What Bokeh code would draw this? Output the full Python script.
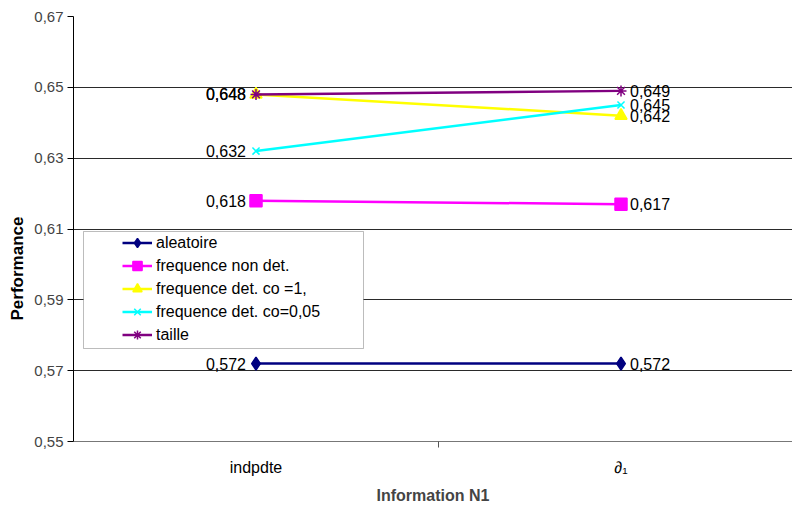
from bokeh.plotting import figure
from bokeh.models import (ColumnDataSource, FixedTicker, LabelSet, Title,
                          BoxAnnotation, CustomJSTickFormatter)
from bokeh.core.properties import value
from bokeh.embed import file_html
from bokeh.resources import INLINE

# ---- data ----
categories = ["indpdte", "\u2202\u2081"]
series_names = ["aleatoire", "frequence non det.", "frequence det. co =1,",
                "frequence det. co=0,05", "taille"]
aleatoire = [0.572, 0.572]
freq_non_det = [0.618, 0.617]
freq_det_co1 = [0.648, 0.642]
freq_det_co005 = [0.632, 0.645]
taille = [0.648, 0.649]
y_ticks = [0.55, 0.57, 0.59, 0.61, 0.63, 0.65, 0.67]

series = [aleatoire, freq_non_det, freq_det_co1, freq_det_co005, taille]
colors = ["#000080", "#FF00FF", "#FFFF00", "#00FFFF", "#800080"]
markers = ["diamond", "square", "triangle", "x", "asterisk"]
sizes = [13, 12, 12, 10, 11]

FONT = "Liberation Sans"
W, H = 792, 506
LEFT, BOTTOM, TOP = 73, 63, 16
CAT_W = 365.0

def fmt(v):
    return f"{v:.3f}".replace(".", ",")

x_idx = list(range(len(categories)))

p = figure(width=W, height=H, output_backend="svg", toolbar_location=None,
           x_range=(-0.5, -0.5 + (W - LEFT) / CAT_W), y_range=(y_ticks[0], y_ticks[-1]),
           min_border_left=LEFT, min_border_right=0, min_border_top=TOP,
           min_border_bottom=BOTTOM)
p.outline_line_color = None
p.background_fill_color = "white"

# grid
p.xgrid.grid_line_color = None
p.ygrid.ticker = FixedTicker(ticks=y_ticks)
p.ygrid.grid_line_color = "#2a2a2a"
p.ygrid.grid_line_width = 1

# y axis
p.yaxis.ticker = FixedTicker(ticks=y_ticks)
p.yaxis.formatter = CustomJSTickFormatter(code="return tick.toFixed(2).replace('.', ',');")
p.yaxis.axis_line_color = "black"
p.yaxis.major_tick_line_color = "black"
p.yaxis.major_tick_out = 6
p.yaxis.major_tick_in = 0
p.yaxis.minor_tick_line_color = None
p.yaxis.major_label_standoff = 4
p.yaxis.major_label_text_font = FONT
p.yaxis.major_label_text_font_size = "15px"
p.yaxis.major_label_text_color = "#444444"

# x axis
p.xaxis.ticker = FixedTicker(ticks=x_idx, minor_ticks=[0.5])
p.xaxis.major_label_overrides = {i: c for i, c in zip(x_idx, categories)}
p.xaxis.major_tick_line_color = None
p.xaxis.major_tick_out = 6
p.xaxis.minor_tick_out = 6
p.xaxis.minor_tick_in = 0
p.xaxis.minor_tick_line_color = "#555555"
p.xaxis.axis_line_color = "#777777"
p.xaxis.major_label_standoff = 11
p.xaxis.major_label_text_font = FONT
p.xaxis.major_label_text_font_size = "16px"
p.xaxis.major_label_text_color = "black"
p.xaxis.axis_label = "Information N1"
p.xaxis.axis_label_text_font = FONT
p.xaxis.axis_label_text_font_style = "bold"
p.xaxis.axis_label_text_font_size = "16px"
p.xaxis.axis_label_standoff = 8

# legend box (drawn as frame behind legend)
box = BoxAnnotation(left=83, right=363, top=231, bottom=348,
                    left_units="canvas", right_units="canvas",
                    top_units="canvas", bottom_units="canvas",
                    fill_color="white", fill_alpha=1.0,
                    line_color="#222222", line_width=1)
p.add_layout(box)

# series
for name, vals, c, m, s in zip(series_names, series, colors, markers, sizes):
    src = ColumnDataSource(dict(x=x_idx, y=vals))
    p.line("x", "y", source=src, line_color=c, line_width=2.5, legend_label=name)
    p.scatter("x", "y", source=src, marker=m, size=s, fill_color=c, line_color=c,
              line_width=1.5, legend_label=name)

# data labels
left_src = ColumnDataSource(dict(x=[x_idx[0]] * len(series), y=[v[0] for v in series],
                                 t=[fmt(v[0]) for v in series]))
right_src = ColumnDataSource(dict(x=[x_idx[1]] * len(series), y=[v[1] for v in series],
                                  t=[fmt(v[1]) for v in series]))
for src, off, align in [(left_src, -10, "right"), (right_src, 9, "left")]:
    p.add_layout(LabelSet(x="x", y="y", text="t", source=src, x_offset=off,
                          text_align=align, text_baseline="middle",
                          text_font=value(FONT), text_font_size="16px",
                          text_color="black"))

# legend
lg = p.legend[0]
lg.location = (49, 95)
lg.padding = 0
lg.margin = 0
lg.spacing = 0
lg.label_height = 23
lg.glyph_height = 23
lg.glyph_width = 30
lg.label_standoff = 4
lg.border_line_color = None
lg.background_fill_alpha = 0
lg.label_text_font = FONT
lg.label_text_font_size = "16px"
lg.label_text_color = "black"

# y axis title
p.add_layout(Title(text="Performance", align="left", offset=121,
                   text_font=FONT, text_font_style="bold",
                   text_font_size="17px", text_color="black"), "left")

open("out.html", "w").write(file_html(p, INLINE))
